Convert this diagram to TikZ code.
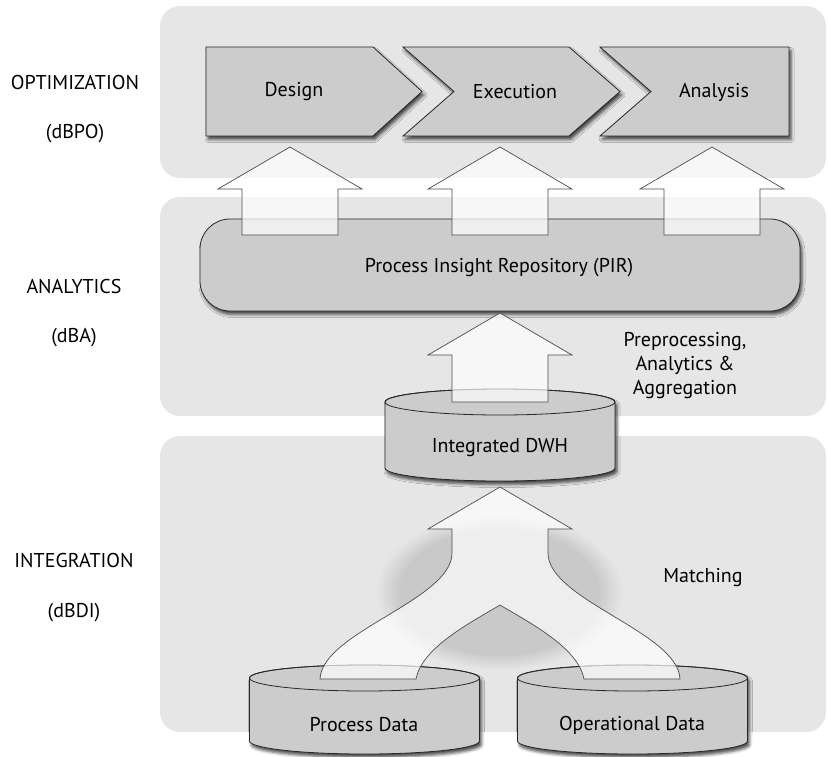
\documentclass[tikz,border=0pt]{standalone}
\usepackage{fontspec}
\setmainfont{PT Sans}
\usetikzlibrary{shadows.blur}
\definecolor{panel}{HTML}{E6E6E6}
\definecolor{boxfill}{HTML}{CCCCCC}
\definecolor{edge}{HTML}{262626}
\definecolor{hazecore}{HTML}{C9C9C9}
\pgfdeclareradialshading{haze}{\pgfpoint{0bp}{0bp}}{%
  color(0bp)=(hazecore); color(20bp)=(hazecore); color(25bp)=(panel); color(50bp)=(panel)}

\begin{document}
\begin{tikzpicture}[x=1pt,y=-1pt,
  font=\fontsize{20}{24}\selectfont,
  layerbg/.style={fill=panel, rounded corners=20pt},
  boxshadow/.style={blur shadow={shadow xshift=2pt, shadow yshift=-3.5pt,
      shadow blur radius=3pt, shadow opacity=70}},
  stagebox/.style={fill=boxfill, draw=edge, line width=0.8pt, line join=miter, boxshadow},
  blockarrow/.style={fill=white, fill opacity=0.7, draw=black!70, line width=0.7pt,
      line join=miter},
  caption/.style={inner sep=0pt, text=black},
  pics/uparrow/.style={code={%
    \path[blockarrow] (0,0) -- (72,42) -- (48,42) -- (48,#1) -- (-48,#1)
      -- (-48,42) -- (-72,42) -- cycle;}},
  pics/drum/.style={code={%
    \path[stagebox] (-115,0) -- (-115,#1)
      arc[start angle=180, end angle=0, x radius=115, y radius=13]
      -- (115,0) arc[start angle=0, end angle=-180, x radius=115, y radius=13] -- cycle;
    \draw[edge, line width=0.8pt] (0,0) ellipse [x radius=115, y radius=13];}},
]
\useasboundingbox (0,0) rectangle (828,756);

% three layers
\path[layerbg] (160,6) rectangle (826,178);
\path[layerbg] (160,197) rectangle (826,416);
\path[layerbg] (160,436) rectangle (826,732);

% layer names
\node[caption] (opt)  at (75,82)  {OPTIMIZATION};
\node[caption] (optk) at (75,134) {(dBPO)};
\node[caption] (ana)  at (74,286) {ANALYTICS};
\node[caption] (anak) at (74,338) {(dBA)};
\node[caption] (int)  at (74,560) {INTEGRATION};
\node[caption] (intk) at (74,613) {(dBDI)};

% process stages
\path[stagebox] (206,47) -- (373,47) -- (422,91.5) -- (373,136) -- (206,136) -- cycle;
\path[stagebox] (403,47) -- (569,47) -- (620,91.5) -- (569,136) -- (403,136) -- (454,91.5) -- cycle;
\path[stagebox] (600,47) -- (789,47) -- (789,136) -- (600,136) -- (651,91.5) -- cycle;
\node[caption] (design) at (294,92) {Design};
\node[caption] (exec)   at (515,92) {Execution};
\node[caption] (anal)   at (714,92) {Analysis};

% repository
\path[stagebox, rounded corners=30pt] (200,219) rectangle (800,311);
\node[caption] (pir) at (499,268) {Process Insight Repository (PIR)};

% data stores
\pic at (500,402) {drum=66};
\pic at (364.5,678) {drum=63};
\pic at (632.5,678) {drum=63};
\node[caption] (dwh)  at (500,448) {Integrated DWH};
\node[caption] (proc) at (364,725) {Process Data};
\node[caption] (oper) at (632,725) {Operational Data};

% matching haze
\shade[shading=haze] (499,592) ellipse [x radius=124, y radius=78];

% block arrows
\pic at (290,147) {uparrow=88};
\pic at (500,147) {uparrow=88};
\pic at (712,147) {uparrow=88};
\pic at (500,313) {uparrow=89};
\path[blockarrow] (500,487) -- (572,529) -- (548,529) -- (548,553)
  .. controls (548,600) and (678,632) .. (680,679) -- (584,679)
  .. controls (578,648) and (532,624) .. (500,605)
  .. controls (468,624) and (422,648) .. (416,679) -- (320,679)
  .. controls (322,632) and (452,600) .. (452,553) -- (452,529) -- (428,529) -- cycle;

% step labels
\node[caption, align=center] (prep) at (685,366) {Preprocessing,\\Analytics \&\\Aggregation};
\node[caption] (match) at (703,578) {Matching};
\end{tikzpicture}
\end{document}
